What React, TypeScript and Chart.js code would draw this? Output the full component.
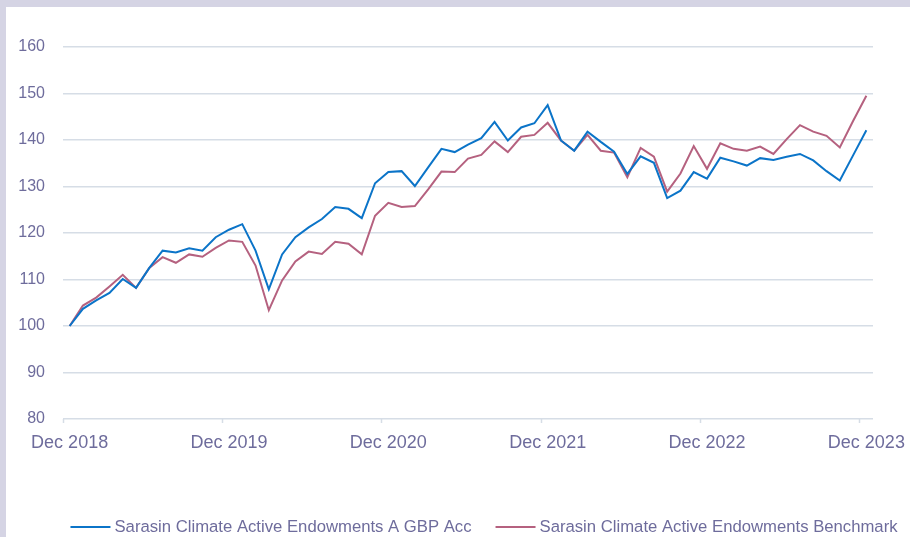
import React, { useEffect, useRef } from 'react';
import { Chart, registerables } from 'chart.js';

Chart.register(...registerables);

const categories = [
  'Dec 2018',
  'Jan 2019', 'Feb 2019', 'Mar 2019', 'Apr 2019', 'May 2019', 'Jun 2019',
  'Jul 2019', 'Aug 2019', 'Sep 2019', 'Oct 2019', 'Nov 2019', 'Dec 2019',
  'Jan 2020', 'Feb 2020', 'Mar 2020', 'Apr 2020', 'May 2020', 'Jun 2020',
  'Jul 2020', 'Aug 2020', 'Sep 2020', 'Oct 2020', 'Nov 2020', 'Dec 2020',
  'Jan 2021', 'Feb 2021', 'Mar 2021', 'Apr 2021', 'May 2021', 'Jun 2021',
  'Jul 2021', 'Aug 2021', 'Sep 2021', 'Oct 2021', 'Nov 2021', 'Dec 2021',
  'Jan 2022', 'Feb 2022', 'Mar 2022', 'Apr 2022', 'May 2022', 'Jun 2022',
  'Jul 2022', 'Aug 2022', 'Sep 2022', 'Oct 2022', 'Nov 2022', 'Dec 2022',
  'Jan 2023', 'Feb 2023', 'Mar 2023', 'Apr 2023', 'May 2023', 'Jun 2023',
  'Jul 2023', 'Aug 2023', 'Sep 2023', 'Oct 2023', 'Nov 2023', 'Dec 2023',
];

const xTickLabels = ['Dec 2018', 'Dec 2019', 'Dec 2020', 'Dec 2021', 'Dec 2022', 'Dec 2023'];

const fundValues = [
  100.0,
  103.7, 105.5, 107.1, 110.1, 108.2, 112.5, 116.2, 115.8, 116.7, 116.2, 119.1, 120.7,
  121.9, 116.2, 107.9, 115.4, 119.1, 121.2, 123.0, 125.6, 125.2, 123.2, 130.7, 133.1,
  133.3, 130.1, 134.1, 138.1, 137.4, 139.0, 140.4, 143.9, 139.9, 142.7, 143.6, 147.5,
  139.9, 137.7, 141.8, 139.6, 137.5, 132.7, 136.5, 135.1, 127.5, 129.1, 133.1, 131.7,
  136.2, 135.4, 134.5, 136.1, 135.7, 136.4, 137.0, 135.6, 133.3, 131.3, 136.7, 142.1,
];

const benchmarkValues = [
  100.0,
  104.4, 106.1, 108.5, 111.0, 108.2, 112.5, 114.8, 113.6, 115.4, 114.9, 116.8, 118.4,
  118.1, 113.0, 103.4, 109.8, 113.9, 116.0, 115.5, 118.1, 117.7, 115.4, 123.7, 126.5,
  125.6, 125.8, 129.4, 133.2, 133.1, 136.0, 136.8, 139.7, 137.4, 140.7, 141.1, 143.7,
  139.9, 137.7, 141.1, 137.7, 137.3, 132.0, 138.3, 136.4, 128.9, 132.8, 138.7, 133.8,
  139.3, 138.1, 137.7, 138.6, 137.0, 140.2, 143.2, 141.8, 140.9, 138.4, 144.1, 149.5,
];

const seriesNames = [
  'Sarasin Climate Active Endowments A GBP Acc',
  'Sarasin Climate Active Endowments Benchmark',
];

const yMin = 80;
const yMax = 160;
const yStep = 10;

const FONT = '"Liberation Sans", Arial, Helvetica, sans-serif';
const TEXT = '#6e6c9c';
const GRID = '#d6dde6';
const BLUE = '#0b74c8';
const PINK = '#b5617f';

const legendPlugin = {
  id: 'bottomLegend',
  afterDraw(chart: any) {
    const ctx = chart.ctx;
    ctx.save();
    ctx.font = '16.7px ' + FONT;
    const items = chart.data.datasets.map((ds: any) => ({
      label: ds.label,
      color: ds.borderColor,
      w: ctx.measureText(ds.label).width,
    }));
    const lineW = 40;
    const gapText = 4;
    const gapItem = 24;
    const total =
      items.reduce((s: number, it: any) => s + lineW + gapText + it.w, 0) +
      gapItem * (items.length - 1);
    let x = 484 - total / 2;
    const y = 527;
    items.forEach((it: any) => {
      ctx.strokeStyle = it.color;
      ctx.lineWidth = 2;
      ctx.beginPath();
      ctx.moveTo(x, y);
      ctx.lineTo(x + lineW, y);
      ctx.stroke();
      ctx.fillStyle = TEXT;
      ctx.textBaseline = 'middle';
      ctx.textAlign = 'left';
      ctx.fillText(it.label, x + lineW + gapText, y);
      x += lineW + gapText + it.w + gapItem;
    });
    ctx.restore();
  },
};

export default function App() {
  const canvasRef = useRef<HTMLCanvasElement>(null);

  useEffect(() => {
    if (!canvasRef.current) return;
    Chart.defaults.font.family = FONT;
    const chart = new Chart(canvasRef.current, {
      type: 'line',
      data: {
        labels: categories,
        datasets: [
          {
            label: seriesNames[0],
            data: fundValues,
            borderColor: BLUE,
            backgroundColor: BLUE,
            borderWidth: 2,
            pointRadius: 0,
            tension: 0,
          },
          {
            label: seriesNames[1],
            data: benchmarkValues,
            borderColor: PINK,
            backgroundColor: PINK,
            borderWidth: 2,
            pointRadius: 0,
            tension: 0,
          },
        ],
      },
      options: {
        animation: false,
        responsive: false,
        maintainAspectRatio: false,
        layout: { padding: { top: 47, right: 37, left: 0, bottom: 0 } },
        plugins: {
          legend: { display: false },
          tooltip: { enabled: false },
        },
        scales: {
          x: {
            type: 'category',
            offset: true,
            grid: {
              offset: true,
              drawOnChartArea: false,
              drawTicks: true,
              tickLength: 4,
              tickWidth: 1.5,
              tickColor: (c: any) => (c.index % 12 === 0 ? GRID : 'rgba(0,0,0,0)'),
            },
            border: { display: false },
            ticks: {
              autoSkip: false,
              maxRotation: 0,
              minRotation: 0,
              padding: 9,
              color: TEXT,
              font: { size: 18, family: FONT },
              callback: (_v: any, i: number) =>
                xTickLabels.includes(categories[i]) ? categories[i] : '',
            },
            afterFit: (s: any) => {
              s.height = 118;
              s.paddingLeft = 0;
              s.paddingRight = 0;
            },
          },
          y: {
            min: yMin,
            max: yMax,
            ticks: {
              stepSize: yStep,
              padding: 18,
              color: TEXT,
              font: { size: 16, family: FONT },
            },
            grid: { color: GRID, lineWidth: 1.5, drawTicks: false },
            border: { display: false },
            afterFit: (s: any) => {
              s.width = 63;
              s.paddingTop = 0;
              s.paddingBottom = 0;
            },
          },
        },
      },
      plugins: [legendPlugin],
    } as any);
    return () => chart.destroy();
  }, []);

  return (
    <div
      style={{
        position: 'fixed',
        left: 0,
        top: 0,
        width: 910,
        height: 537,
        background: '#d5d4e4',
        overflow: 'hidden',
      }}
    >
      <div
        style={{
          position: 'absolute',
          left: 6,
          top: 7,
          width: 904,
          height: 530,
          background: '#ffffff',
        }}
      />
      <canvas
        ref={canvasRef}
        width={910}
        height={537}
        style={{ position: 'absolute', left: 0, top: 0, width: 910, height: 537 }}
      />
    </div>
  );
}
